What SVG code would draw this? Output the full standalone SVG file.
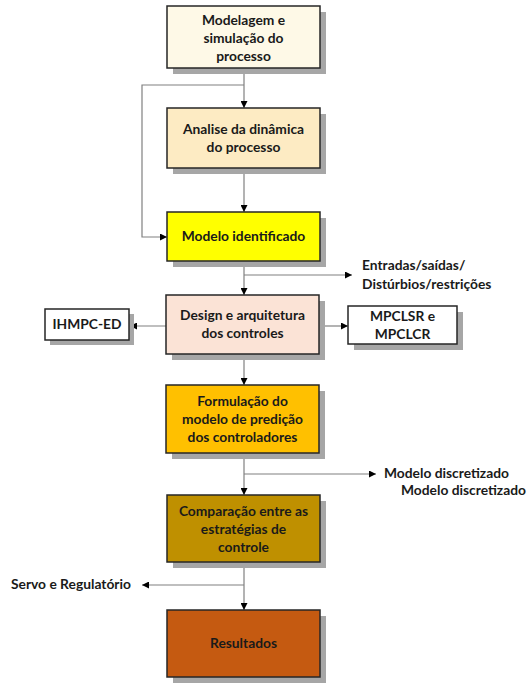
<svg xmlns="http://www.w3.org/2000/svg" width="527" height="684" viewBox="0 0 527 684">
  <style>
    .box { stroke: #262626; stroke-width: 1.5; }
    .shadow { fill: #a6a6a6; }
    .lbl { font-family: Lato, "Open Sans", "Liberation Sans", sans-serif; font-weight: bold; font-size: 13.8px; fill: #1a1a1a; text-anchor: middle; }
    .side { font-family: Lato, "Open Sans", "Liberation Sans", sans-serif; font-weight: bold; font-size: 13.8px; fill: #1a1a1a; }
    .wire { fill: none; stroke: #808080; stroke-width: 1.2; }
  </style>
  <defs>
    <marker id="arrow" viewBox="0 0 10 10" refX="10" refY="5" markerWidth="7" markerHeight="7" markerUnits="userSpaceOnUse" orient="auto">
      <path d="M0,0 L10,5 L0,10 Z" fill="#000"/>
    </marker>
  </defs>
  <rect width="527" height="684" fill="#fff"/>

  <!-- connectors -->
  <g id="connectors">
    <path class="wire" d="M244,68 V108" marker-end="url(#arrow)"/>
    <path class="wire" d="M244,85 H142 V237 H167" marker-end="url(#arrow)"/>
    <path class="wire" d="M244,168 V212" marker-end="url(#arrow)"/>
    <path class="wire" d="M244,261 V295" marker-end="url(#arrow)"/>
    <path class="wire" d="M244,275 H352" marker-end="url(#arrow)"/>
    <path class="wire" d="M319,326 H348" marker-end="url(#arrow)"/>
    <path class="wire" d="M166,326 H130" marker-end="url(#arrow)"/>
    <path class="wire" d="M244,354 V385" marker-end="url(#arrow)"/>
    <path class="wire" d="M244,453 V495" marker-end="url(#arrow)"/>
    <path class="wire" d="M244,474 H376" marker-end="url(#arrow)"/>
    <path class="wire" d="M244,562 V610" marker-end="url(#arrow)"/>
    <path class="wire" d="M244,585 H142" marker-end="url(#arrow)"/>
  </g>

  <g id="n1">
    <rect class="shadow" x="173" y="12" width="153" height="62"/>
    <rect class="box" x="167" y="6" width="153" height="62" fill="#fef9e7"/>
    <text class="lbl" x="243.5" y="25">Modelagem e</text>
    <text class="lbl" x="243.5" y="43">simulação do</text>
    <text class="lbl" x="243.5" y="61">processo</text>
  </g>
  <g id="n2">
    <rect class="shadow" x="173" y="114" width="153" height="60"/>
    <rect class="box" x="167" y="108" width="153" height="60" fill="#fdebc3"/>
    <text class="lbl" x="243.5" y="134">Analise da dinâmica</text>
    <text class="lbl" x="243.5" y="152">do processo</text>
  </g>
  <g id="n3">
    <rect class="shadow" x="173" y="218" width="153" height="49"/>
    <rect class="box" x="167" y="212" width="153" height="49" fill="#ffff00"/>
    <text class="lbl" x="243.5" y="241">Modelo identificado</text>
  </g>
  <g id="n4">
    <rect class="shadow" x="172" y="301" width="153" height="59"/>
    <rect class="box" x="166" y="295" width="153" height="59" fill="#fbe3d6"/>
    <text class="lbl" x="242.5" y="320">Design e arquitetura</text>
    <text class="lbl" x="242.5" y="338">dos controles</text>
  </g>
  <g id="n4b">
    <rect class="shadow" x="354" y="312" width="109" height="38"/>
    <rect class="box" x="348" y="306" width="109" height="38" fill="#ffffff"/>
    <text class="lbl" x="402.5" y="321">MPCLSR e</text>
    <text class="lbl" x="402.5" y="339">MPCLCR</text>
  </g>
  <g id="n4a">
    <rect class="shadow" x="50" y="314" width="84" height="31"/>
    <rect class="box" x="45" y="309" width="84" height="31" fill="#ffffff"/>
    <text class="lbl" x="87" y="329">IHMPC-ED</text>
  </g>
  <g id="n5">
    <rect class="shadow" x="172" y="391" width="153" height="68"/>
    <rect class="box" x="166" y="385" width="153" height="68" fill="#ffc000"/>
    <text class="lbl" x="242.5" y="406">Formulação do</text>
    <text class="lbl" x="242.5" y="424">modelo de predição</text>
    <text class="lbl" x="242.5" y="442">dos controladores</text>
  </g>
  <g id="n6">
    <rect class="shadow" x="173" y="501" width="153" height="67"/>
    <rect class="box" x="167" y="495" width="153" height="67" fill="#bf9000"/>
    <text class="lbl" x="243.5" y="516">Comparação entre as</text>
    <text class="lbl" x="243.5" y="534">estratégias de</text>
    <text class="lbl" x="243.5" y="552">controle</text>
  </g>
  <g id="n7">
    <rect class="shadow" x="173" y="616" width="153" height="67"/>
    <rect class="box" x="167" y="610" width="153" height="67" fill="#c55a11"/>
    <text class="lbl" x="243.5" y="648">Resultados</text>
  </g>

  <!-- side notes -->
  <g id="notes">
    <text class="side" x="362" y="270">Entradas/saídas/</text>
    <text class="side" x="362" y="289">Distúrbios/restrições</text>
    <text class="side" x="384" y="478">Modelo discretizado</text>
    <text class="side" x="401" y="495">Modelo discretizado</text>
    <text class="side" x="11" y="589">Servo e Regulatório</text>
  </g>
</svg>
